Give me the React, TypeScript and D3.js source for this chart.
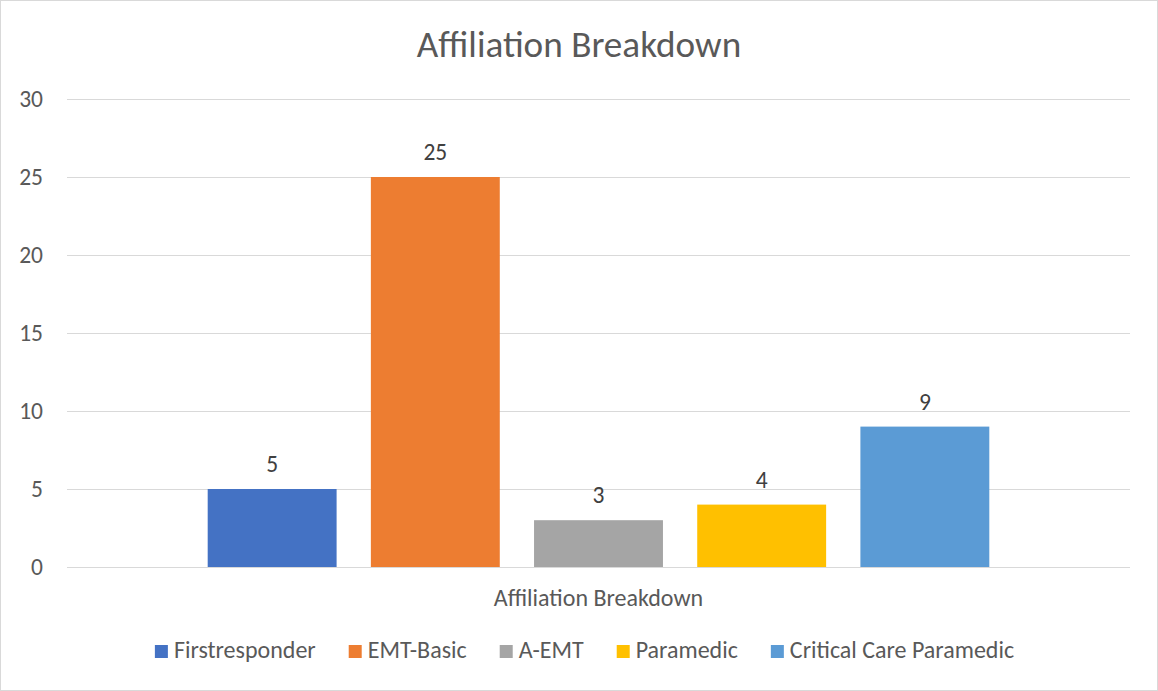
import React, { useEffect, useRef } from "react";
import * as d3 from "d3";

const title = "Affiliation Breakdown";
const category = "Affiliation Breakdown";
const seriesNames = ["Firstresponder", "EMT-Basic", "A-EMT", "Paramedic", "Critical Care Paramedic"];
const seriesValues = [5, 25, 3, 4, 9];
const seriesColors = ["#4472C4", "#ED7D31", "#A5A5A5", "#FFC000", "#5B9BD5"];
const yTicks = [0, 5, 10, 15, 20, 25, 30];

const W = 1158;
const H = 691;
const FONT = "Carlito, Calibri, Lato, 'Liberation Sans', sans-serif";
const TEXT = "#595959";
const FS = 23.5;
const FS_LEG = 24;

export default function App() {
  const ref = useRef<SVGSVGElement | null>(null);

  useEffect(() => {
    const svg = d3.select(ref.current);
    svg.selectAll("*").remove();

    const plot = { left: 67, right: 1130, top: 99, bottom: 567 };

    svg.append("rect")
      .attr("x", 0.5).attr("y", 0.5)
      .attr("width", W - 1).attr("height", H - 1)
      .attr("fill", "#fff").attr("stroke", "#d9d9d9");

    const y = d3.scaleLinear().domain([0, 30]).range([plot.bottom, plot.top]);
    const x0 = d3.scaleBand<string>().domain([category]).range([plot.left, plot.right]).paddingInner(0).paddingOuter(0.18);
    const x1 = d3.scaleBand<string>().domain(seriesNames).range([0, x0.bandwidth()]).paddingInner(0.21).paddingOuter(0);

    // gridlines
    svg.append("g").selectAll("line").data(yTicks).join("line")
      .attr("x1", plot.left).attr("x2", plot.right)
      .attr("y1", d => Math.round(y(d)) + 0.5).attr("y2", d => Math.round(y(d)) + 0.5)
      .attr("stroke", "#d9d9d9").attr("stroke-width", 1);

    // y tick labels
    svg.append("g").selectAll("text").data(yTicks).join("text")
      .attr("x", 43).attr("y", d => y(d))
      .attr("dy", "0.36em")
      .attr("text-anchor", "end")
      .attr("font-family", FONT).attr("font-size", FS).attr("fill", TEXT)
      .text(d => String(d));

    const bx = x0(category)!;
    // bars
    svg.append("g").selectAll("rect").data(seriesNames).join("rect")
      .attr("x", (d) => bx + x1(d)!)
      .attr("y", (d, i) => y(seriesValues[i]))
      .attr("width", x1.bandwidth())
      .attr("height", (d, i) => y(0) - y(seriesValues[i]))
      .attr("fill", (d, i) => seriesColors[i]);

    // data labels
    svg.append("g").selectAll("text").data(seriesNames).join("text")
      .attr("x", (d) => bx + x1(d)! + x1.bandwidth() / 2)
      .attr("y", (d, i) => y(seriesValues[i]) - 17)
      .attr("text-anchor", "middle")
      .attr("font-family", FONT).attr("font-size", FS).attr("fill", "#404040")
      .text((d, i) => String(seriesValues[i]));

    // category label
    svg.append("text")
      .attr("x", (plot.left + plot.right) / 2).attr("y", 606)
      .attr("text-anchor", "middle")
      .attr("font-family", FONT).attr("font-size", FS_LEG).attr("fill", TEXT)
      .text(category);

    // title
    svg.append("text")
      .attr("x", W / 2).attr("y", 57)
      .attr("text-anchor", "middle")
      .attr("font-family", FONT).attr("font-size", 37.2).attr("fill", TEXT)
      .text(title);

    // legend
    const lg = svg.append("g");
    const sq = 13, gapSqText = 6, gapItem = 33;
    const items = seriesNames.map((name, i) => {
      const g = lg.append("g");
      g.append("rect").attr("x", 0).attr("y", 645).attr("width", sq).attr("height", sq).attr("fill", seriesColors[i]);
      const t = g.append("text")
        .attr("x", sq + gapSqText).attr("y", 658)
        .attr("font-family", FONT).attr("font-size", FS_LEG).attr("fill", TEXT)
        .text(name);
      const w = (t.node() as SVGTextElement).getComputedTextLength();
      return { g, w: sq + gapSqText + w };
    });
    const total = d3.sum(items, d => d.w) + gapItem * (items.length - 1);
    let cx = 584.5 - total / 2;
    items.forEach(it => {
      it.g.attr("transform", `translate(${cx},0)`);
      cx += it.w + gapItem;
    });
  }, []);

  return (
    <svg
      ref={ref}
      width={W}
      height={H}
      style={{ position: "absolute", left: 0, top: 0, display: "block" }}
    />
  );
}
